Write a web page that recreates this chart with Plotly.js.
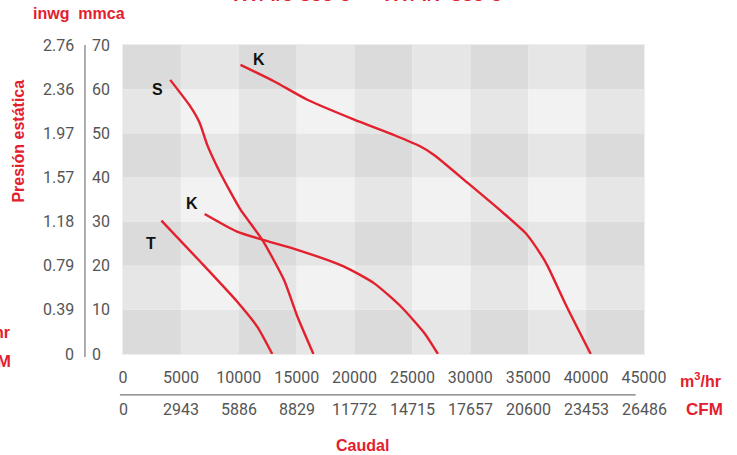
<!DOCTYPE html>
<html>
<head>
<meta charset="utf-8">
<script src="https://cdn.plot.ly/plotly-3.0.1.min.js"></script>
<style>html,body{margin:0;padding:0;background:#fff;}#chart{width:737px;height:455px;}</style>
</head>
<body>
<div id="chart"></div>
<script>
// ---- data ----
const xTicks = [0, 5000, 10000, 15000, 20000, 25000, 30000, 35000, 40000, 45000];
const cfmLabels = ["0", "2943", "5886", "8829", "11772", "14715", "17657", "20600", "23453", "26486"];
const yTicks = [0, 10, 20, 30, 40, 50, 60, 70];
const inwgLabels = ["0", "0.39", "0.79", "1.18", "1.57", "1.97", "2.36", "2.76"];

const tX = [3320, 6680, 9850, 11590, 12890];
const tY = [30.2, 20.9, 11.9, 6.2, 0];

const sX = [4075, 5810, 6600, 7300, 8100, 9300, 10150, 12020, 13900, 15060, 16450];
const sY = [62.1, 56.1, 52.5, 47.2, 42.6, 36.6, 32.7, 25.9, 16.8, 8.5, 0];

const k1X = [7050, 9850, 12020, 15060, 19100, 21700, 24020, 26040, 27200];
const k1Y = [31.7, 27.7, 25.9, 23.6, 19.8, 16.0, 10.7, 4.7, 0];

const k2X = [10150, 13030, 15920, 19970, 23500, 25700, 26870, 29800, 32690, 34770, 36200, 36700, 38330, 40400];
const k2Y = [65.5, 61.8, 57.6, 53.1, 49.5, 47.0, 45.1, 38.7, 32.3, 27.4, 22.1, 19.8, 10.7, 0];

const curveNames = ["T", "S", "K", "K"];
const labelX = [2420, 2940, 5960, 11750];
const labelY = [25.1, 60.0, 34.0, 66.8];

// ---- styles ----
const RED = "#e3202d";
const LBL = "Roboto, 'Liberation Sans', sans-serif";
const BOLD = "'Liberation Sans', Roboto, sans-serif";
const GRAY = "#555555";

const series = [[tX, tY], [sX, sY], [k1X, k1Y], [k2X, k2Y]];
const traces = series.map((s, i) => ({
  x: s[0], y: s[1], type: "scatter", mode: "lines",
  line: {color: RED, width: 2.4, shape: "spline", smoothing: 0.6},
  name: curveNames[i], showlegend: false, hoverinfo: "skip"
}));

// checkered background cells
const shapes = [];
const cDark = "#dbdbdb", cMid = "#e6e6e6", cLight = "#f2f2f2";
for (let i = 0; i < xTicks.length - 1; i++) {
  for (let j = 0; j < yTicks.length - 1; j++) {
    const colDark = (i % 2 === 0);
    const rowDark = ((yTicks.length - 2 - j) % 2 === 0);
    const c = (colDark && rowDark) ? cDark : (colDark || rowDark) ? cMid : cLight;
    shapes.push({type: "rect", xref: "x", yref: "y", layer: "below",
      x0: xTicks[i], x1: xTicks[i + 1], y0: yTicks[j], y1: yTicks[j + 1],
      fillcolor: c, line: {width: 0}});
  }
}
// plot border
shapes.push({type: "rect", xref: "paper", yref: "paper", x0: 0, x1: 1, y0: 0, y1: 1,
  line: {color: "#eeeeee", width: 2}, layer: "below"});
// vertical divider between y label columns
shapes.push({type: "line", xref: "paper", yref: "paper", x0: -0.073, x1: -0.073, y0: -0.01, y1: 1.0,
  line: {color: "#777777", width: 1.2}});
// horizontal divider between x label rows
shapes.push({type: "line", xref: "paper", yref: "paper", x0: -0.006, x1: 0.984, y0: -0.132, y1: -0.132,
  line: {color: "#777777", width: 1.2}});

const annotations = [];
// mmca + inwg labels
yTicks.forEach((v, k) => {
  annotations.push({xref: "paper", yref: "y", x: -0.063, y: v, xanchor: "left", yanchor: "middle",
    text: String(v), showarrow: false, font: {family: LBL, size: 16, color: GRAY}});
  annotations.push({xref: "paper", yref: "y", x: -0.09, y: v, xanchor: "right", yanchor: "middle",
    text: inwgLabels[k], showarrow: false, font: {family: LBL, size: 16, color: GRAY}});
});
// CFM labels
xTicks.forEach((v, k) => {
  annotations.push({xref: "x", yref: "paper", x: v, y: -0.18, xanchor: "center", yanchor: "middle",
    text: cfmLabels[k], showarrow: false, font: {family: LBL, size: 16, color: GRAY}});
});
// curve labels
curveNames.forEach((n, k) => {
  annotations.push({xref: "x", yref: "y", x: labelX[k], y: labelY[k], xanchor: "center", yanchor: "middle",
    text: "<b>" + n + "</b>", showarrow: false, font: {family: BOLD, size: 16, color: "#111111"}});
});
const redBold = (txt, x, y, xa, size, extra) => Object.assign({xref: "paper", yref: "paper", x: x, y: y,
  xanchor: xa, yanchor: "middle", text: "<b>" + txt + "</b>", showarrow: false,
  font: {family: BOLD, size: size || 16, color: RED}}, extra || {});
annotations.push(redBold("inwg&nbsp;&nbsp;mmca", -0.177, 1.101, "left", 16));
annotations.push(redBold("m<sup>3</sup>/hr", 1.065, -0.085, "left", 16));
annotations.push(redBold("CFM", 1.077, -0.18, "left", 17));
annotations.push(redBold("Caudal", 0.46, -0.297, "center", 16));
annotations.push(redBold("Presión estática", -0.2, 0.69, "center", 16, {textangle: -90}));
// cut-off labels at left edge (neighbouring chart)
annotations.push(redBold("m<sup>3</sup>/hr", -0.214, 0.075, "right", 16));
annotations.push(redBold("CFM", -0.212, -0.025, "right", 17));
// cut-off title at the top
annotations.push(redBold("HT/4/5-355-5  –  HT/4/7-355-5", 0.47, 1.164, "center", 20));

const layout = {
  width: 737, height: 455,
  margin: {l: 123, r: 93, t: 45, b: 101},
  paper_bgcolor: "#ffffff", plot_bgcolor: "#ffffff",
  showlegend: false,
  xaxis: {range: [0, 45000], tickvals: xTicks, ticktext: xTicks.map(String),
    showgrid: false, zeroline: false, showline: false, ticks: "", ticklabelstandoff: 12,
    tickfont: {family: LBL, size: 16, color: GRAY}, fixedrange: true},
  yaxis: {range: [0, 70], showgrid: false, zeroline: false, showline: false,
    showticklabels: false, ticks: "", fixedrange: true},
  shapes: shapes,
  annotations: annotations
};

Plotly.newPlot("chart", traces, layout, {displayModeBar: false, staticPlot: true});
</script>
</body>
</html>
